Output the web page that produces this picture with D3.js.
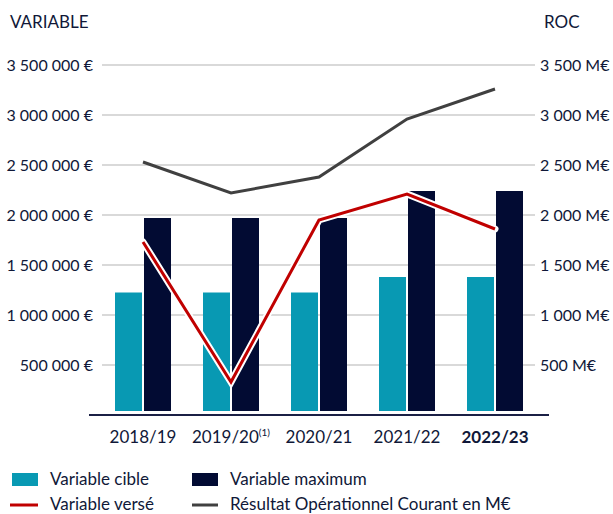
<!DOCTYPE html>
<html><head><meta charset="utf-8">
<script src="https://cdn.jsdelivr.net/npm/d3@7"></script>
<style>
body{margin:0;background:#fff;}
text{font-family:Lato,"Open Sans",sans-serif;fill:#101838;}
</style></head><body>
<svg id="c" width="613" height="514"></svg>
<script>
const categories = ["2018/19","2019/20","2020/21","2021/22","2022/23"];
const variableCible = [1225000,1225000,1225000,1380000,1380000];
const variableMaximum = [1970000,1970000,1970000,2240000,2240000];
const variableVerse = [1730000,330000,1950000,2210000,1860000];
const roc = [2530,2220,2380,2960,3260];
const leftTicks = [500000,1000000,1500000,2000000,2500000,3000000,3500000];
const rightTicks = [500,1000,1500,2000,2500,3000,3500];

const svg = d3.select("#c");
const y = d3.scaleLinear().domain([0,3500000]).range([415,65]);
const yR = d3.scaleLinear().domain([0,3500]).range([415,65]);
const x = d3.scaleBand().domain(categories).range([99,539]).paddingInner(0).paddingOuter(0);
const cx = d => x(d) + x.bandwidth()/2;
const barW = 27, gap = 2, baseGap = 4;
const fmt = v => d3.format(",")(v).replace(/,/g," ");

// gridlines
svg.append("g").selectAll("line").data(leftTicks).join("line")
  .attr("x1",102).attr("x2",535).attr("y1",d=>y(d)).attr("y2",d=>y(d))
  .attr("stroke","#b3b3b3").attr("stroke-width",1);

// left axis labels
const gl = svg.append("g").attr("transform","translate(93,0)")
  .call(d3.axisLeft(y).tickValues(leftTicks).tickSize(0).tickPadding(0).tickFormat(d=>fmt(d)+" €"));
gl.select(".domain").remove();
gl.selectAll("text").style("font-size","16px").attr("dy","0.35em");

// right axis labels
const gr = svg.append("g").attr("transform","translate(540,0)")
  .call(d3.axisRight(yR).tickValues(rightTicks).tickSize(0).tickPadding(0).tickFormat(d=>fmt(d)+" M€"));
gr.select(".domain").remove();
gr.selectAll("text").style("font-size","16px").attr("dy","0.35em");

// titles
svg.append("text").attr("x",10).attr("y",28).style("font-size","17px").text("VARIABLE");
svg.append("text").attr("x",544).attr("y",28).style("font-size","17px").text("ROC");

// bars
svg.append("g").selectAll("rect").data(categories).join("rect")
  .attr("x",d=>cx(d)-gap/2-barW).attr("width",barW)
  .attr("y",(d,i)=>y(variableCible[i])).attr("height",(d,i)=>y(0)-baseGap-y(variableCible[i]))
  .attr("fill","#0899b3");
svg.append("g").selectAll("rect").data(categories).join("rect")
  .attr("x",d=>cx(d)+gap/2).attr("width",barW)
  .attr("y",(d,i)=>y(variableMaximum[i])).attr("height",(d,i)=>y(0)-baseGap-y(variableMaximum[i]))
  .attr("fill","#020b33");

// x axis line
svg.append("line").attr("x1",89).attr("x2",549).attr("y1",y(0)).attr("y2",y(0))
  .attr("stroke","#1b2045").attr("stroke-width",2);

// x labels
const xl = svg.append("g").selectAll("text").data(categories).join("text")
  .attr("x",d=>cx(d)).attr("y",443).attr("text-anchor","middle")
  .style("font-size","17px").style("font-weight",(d,i)=>i===4?"bold":"normal");
xl.text(d=>d);
xl.filter((d,i)=>i===1).append("tspan").attr("dy",-7).style("font-size","10px").text("(1)");

// ROC line
const lineR = d3.line().x((d,i)=>cx(categories[i])).y(d=>yR(d));
svg.append("path").attr("d",lineR(roc)).attr("fill","none")
  .attr("stroke","#404040").attr("stroke-width",3).attr("stroke-linejoin","miter");

// Variable versé line
const lineV = d3.line().x((d,i)=>cx(categories[i])).y(d=>y(d));
svg.append("path").attr("d",lineV(variableVerse)).attr("fill","none")
  .attr("stroke","#fff").attr("stroke-width",7).attr("stroke-linecap","round").attr("stroke-linejoin","miter");
svg.append("path").attr("d",lineV(variableVerse)).attr("fill","none")
  .attr("stroke","#c00000").attr("stroke-width",3).attr("stroke-linejoin","miter");

// legend
const leg = svg.append("g");
leg.append("rect").attr("x",12).attr("y",473).attr("width",26).attr("height",13).attr("fill","#0899b3");
leg.append("text").attr("x",50).attr("y",485).style("font-size","17px").text("Variable cible");
leg.append("rect").attr("x",192).attr("y",473).attr("width",26).attr("height",13).attr("fill","#020b33");
leg.append("text").attr("x",230).attr("y",485).style("font-size","17px").text("Variable maximum");
leg.append("line").attr("x1",10).attr("x2",38).attr("y1",505).attr("y2",505).attr("stroke","#c00000").attr("stroke-width",3);
leg.append("text").attr("x",50).attr("y",510).style("font-size","17px").text("Variable versé");
leg.append("line").attr("x1",192).attr("x2",218).attr("y1",505).attr("y2",505).attr("stroke","#404040").attr("stroke-width",3);
leg.append("text").attr("x",230).attr("y",510).style("font-size","17px").text("Résultat Opérationnel Courant en M€");
</script></body></html>
